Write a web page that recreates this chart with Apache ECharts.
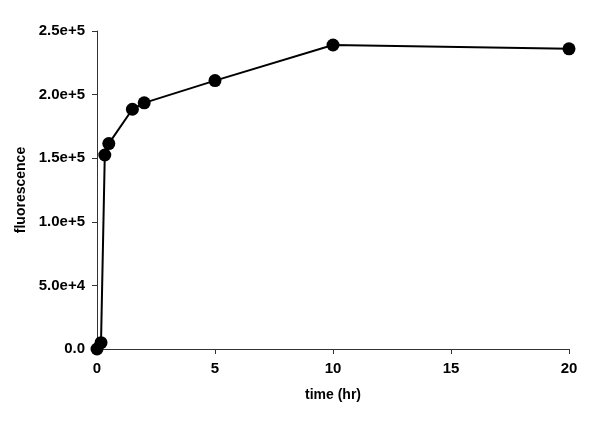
<!DOCTYPE html>
<html>
<head>
<meta charset="utf-8">
<script src="https://cdn.jsdelivr.net/npm/echarts@6/dist/echarts.min.js"></script>
<style>html,body{margin:0;padding:0;background:#fff}#c{width:601px;height:421px}</style>
</head>
<body>
<div id="c"></div>
<script>
var timeHr = [0, 0.17, 0.33, 0.5, 1.5, 2, 5, 10, 20];
var fluorescence = [0, 5000, 152500, 161500, 188500, 193500, 211000, 239000, 236000];
var yTickValues = [0, 50000, 100000, 150000, 200000, 250000];
var yTickLabels = ['0.0', '5.0e+4', '1.0e+5', '1.5e+5', '2.0e+5', '2.5e+5'];
var xTickLabels = ['0', '5', '10', '15', '20'];

var font = 'Liberation Sans, Arial, sans-serif';
var chart = echarts.init(document.getElementById('c'), null, {renderer: 'canvas'});
var pts = timeHr.map(function (t, i) { return [t, fluorescence[i]]; });
chart.setOption({
  animation: false,
  backgroundColor: '#fff',
  grid: {left: 97, right: 32, top: 31, bottom: 72, containLabel: false},
  xAxis: {
    type: 'value', min: 0, max: 20, interval: 5,
    name: 'time (hr)', nameLocation: 'middle', nameGap: 39,
    nameTextStyle: {fontFamily: font, fontWeight: 'bold', fontSize: 14, color: '#000'},
    axisLine: {show: true, onZero: false, lineStyle: {color: '#333', width: 1}},
    axisTick: {show: true, length: 5, lineStyle: {color: '#333'}},
    splitLine: {show: false},
    axisLabel: {fontFamily: font, fontWeight: 'bold', fontSize: 15, color: '#000', margin: 12,
      formatter: function (v) { var i = Math.round(v / 5); return xTickLabels[i] !== undefined ? xTickLabels[i] : ''; }}
  },
  yAxis: {
    type: 'value', min: 0, max: 250000, interval: 50000,
    name: 'fluorescence', nameLocation: 'middle', nameGap: 67, nameRotate: 90,
    nameTextStyle: {fontFamily: font, fontWeight: 'bold', fontSize: 14, color: '#000'},
    axisLine: {show: true, lineStyle: {color: '#333', width: 1}},
    axisTick: {show: true, length: 5, lineStyle: {color: '#333'}},
    splitLine: {show: false},
    axisLabel: {fontFamily: font, fontWeight: 'bold', fontSize: 15, color: '#000', margin: 12,
      formatter: function (v) { var i = yTickValues.indexOf(v); return i >= 0 ? yTickLabels[i] : ''; }}
  },
  series: [{
    type: 'line', data: pts,
    symbol: 'circle', symbolSize: 13,
    itemStyle: {color: '#000'},
    lineStyle: {color: '#000', width: 2},
    clip: false
  }]
});
</script>
</body>
</html>
